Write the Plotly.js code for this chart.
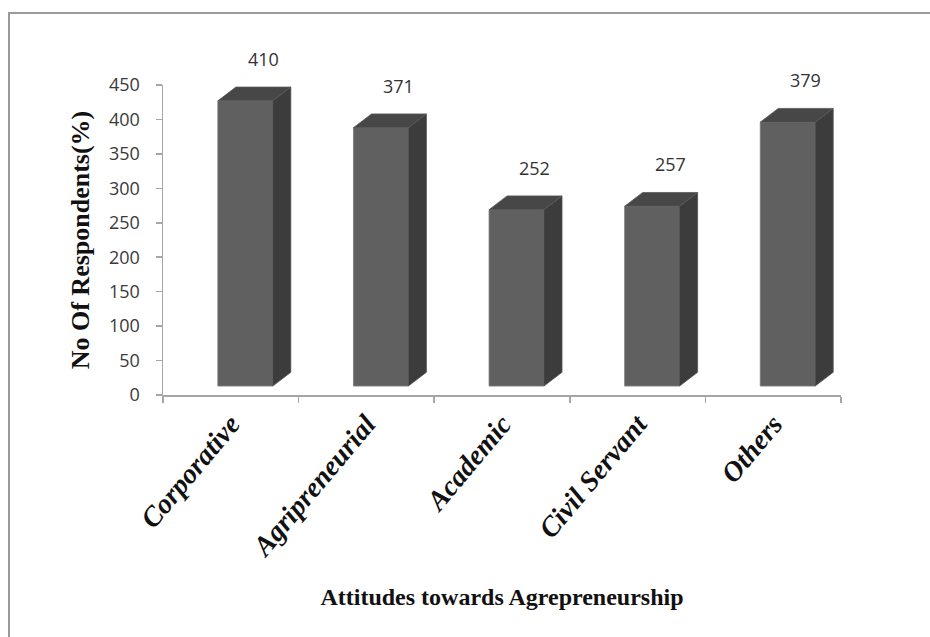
<!DOCTYPE html>
<html>
<head>
<meta charset="utf-8">
<script src="https://cdn.plot.ly/plotly-3.0.1.min.js"></script>
<style>
  html, body { margin: 0; padding: 0; background: #fff; }
  #wrap { position: relative; width: 930px; height: 637px; overflow: hidden; }
  #chart { position: absolute; left: 0; top: 0; width: 930px; height: 637px; }
  #frame { position: absolute; left: 8px; top: 12px; right: -10px; bottom: -10px;
           border-top: 2px solid #9a9a9a; border-left: 2px solid #9a9a9a; pointer-events: none; }
</style>
</head>
<body>
<div id="wrap">
  <div id="chart"></div>
  <div id="frame"></div>
</div>
<script>
// ---- data ----
const categories = ["Corporative", "Agripreneurial", "Academic", "Civil Servant", "Others"];
const respondents = [410, 371, 252, 257, 379];
const yTickValues = [0, 50, 100, 150, 200, 250, 300, 350, 400, 450];
const xTitle = "Attitudes towards Agrepreneurship";
const yTitle = "No Of Respondents(%)";

// ---- 3D look (style parameters, in axis units) ----
const FRONT_OFF = 0.107;   // front face centre offset from category centre
const FRONT_W = 0.405;     // front face width
const DEPTH_X = 0.133;     // depth offset to the right
const DEPTH_Y = 20;        // depth offset upwards
const FLOOR = 13;          // projected floor of the bars
const LIFT = 17;           // projection lift of the top edge
const LABEL_SHIFT_PX = 28; // label offset above the back top edge (pixels)

const idx = categories.map((c, i) => i);
const frontX = idx.map(i => i + FRONT_OFF);
const topY = respondents.map(v => v + LIFT);

const front = {
  type: "bar",
  x: frontX,
  y: topY.map(t => t - FLOOR),
  base: respondents.map(() => FLOOR),
  width: FRONT_W,
  marker: { color: "#606060", line: { color: "#7a7a7a", width: 0.8 } },
  hoverinfo: "skip",
  showlegend: false
};

const topXs = [], topYs = [], sideXs = [], sideYs = [];
idx.forEach(i => {
  const xl = frontX[i] - FRONT_W / 2, xr = frontX[i] + FRONT_W / 2, T = topY[i];
  topXs.push(xl, xr, xr + DEPTH_X, xl + DEPTH_X, xl, null);
  topYs.push(T, T, T + DEPTH_Y, T + DEPTH_Y, T, null);
  sideXs.push(xr, xr + DEPTH_X, xr + DEPTH_X, xr, xr, null);
  sideYs.push(FLOOR, FLOOR + DEPTH_Y, T + DEPTH_Y, T, FLOOR, null);
});

const topFace = {
  type: "scatter", mode: "lines", x: topXs, y: topYs, fill: "toself",
  fillcolor: "#474747", line: { color: "#585858", width: 0.8 },
  hoverinfo: "skip", showlegend: false
};
const sideFace = {
  type: "scatter", mode: "lines", x: sideXs, y: sideYs, fill: "toself",
  fillcolor: "#3c3c3c", line: { color: "#525252", width: 0.8 },
  hoverinfo: "skip", showlegend: false
};

const labelAnnotations = idx.map(i => ({
  xref: "x", yref: "y",
  x: i + FRONT_OFF + DEPTH_X,
  y: topY[i] + DEPTH_Y,
  yshift: LABEL_SHIFT_PX,
  text: String(respondents[i]),
  showarrow: false,
  xanchor: "center", yanchor: "middle",
  font: { family: "Open Sans", size: 18, color: "#333333" }
}));

const boundaries = categories.map((c, i) => i - 0.5).concat([categories.length - 0.5]);

const layout = {
  width: 930, height: 637,
  margin: { l: 163, r: 89, t: 85, b: 242 },
  paper_bgcolor: "rgba(0,0,0,0)",
  plot_bgcolor: "rgba(0,0,0,0)",
  showlegend: false,
  annotations: labelAnnotations,
  xaxis: {
    range: [-0.5, categories.length - 0.5],
    tickmode: "array",
    tickvals: idx,
    ticktext: categories,
    ticks: "",
    tickangle: -50,
    tickfont: { family: "Liberation Serif", size: 28, color: "#111111", weight: "bold", style: "italic" },
    showline: true, linecolor: "#a6a6a6", linewidth: 1.5,
    showgrid: false, zeroline: false,
    minor: { tickmode: "array", tickvals: boundaries, ticks: "outside", ticklen: 6, tickcolor: "#a6a6a6", tickwidth: 1.5, showgrid: false },
    title: { text: xTitle, standoff: 26, font: { family: "Liberation Serif", size: 24, color: "#111111", weight: "bold" } },
    fixedrange: true
  },
  yaxis: {
    range: [0, 450],
    tickmode: "array",
    tickvals: yTickValues,
    ticks: "outside", ticklen: 6, tickcolor: "#a6a6a6", tickwidth: 1.5,
    ticklabelstandoff: 12,
    tickfont: { family: "Open Sans", size: 18, color: "#3a3a3a" },
    showline: true, linecolor: "#a6a6a6", linewidth: 1.5,
    showgrid: false, zeroline: false,
    title: { text: yTitle, standoff: 12, font: { family: "Liberation Serif", size: 26, color: "#111111", weight: "bold" } },
    fixedrange: true
  },
  font: { family: "Open Sans" }
};

Plotly.newPlot("chart", [front, sideFace, topFace], layout, { displayModeBar: false, staticPlot: true });
</script>
</body>
</html>
